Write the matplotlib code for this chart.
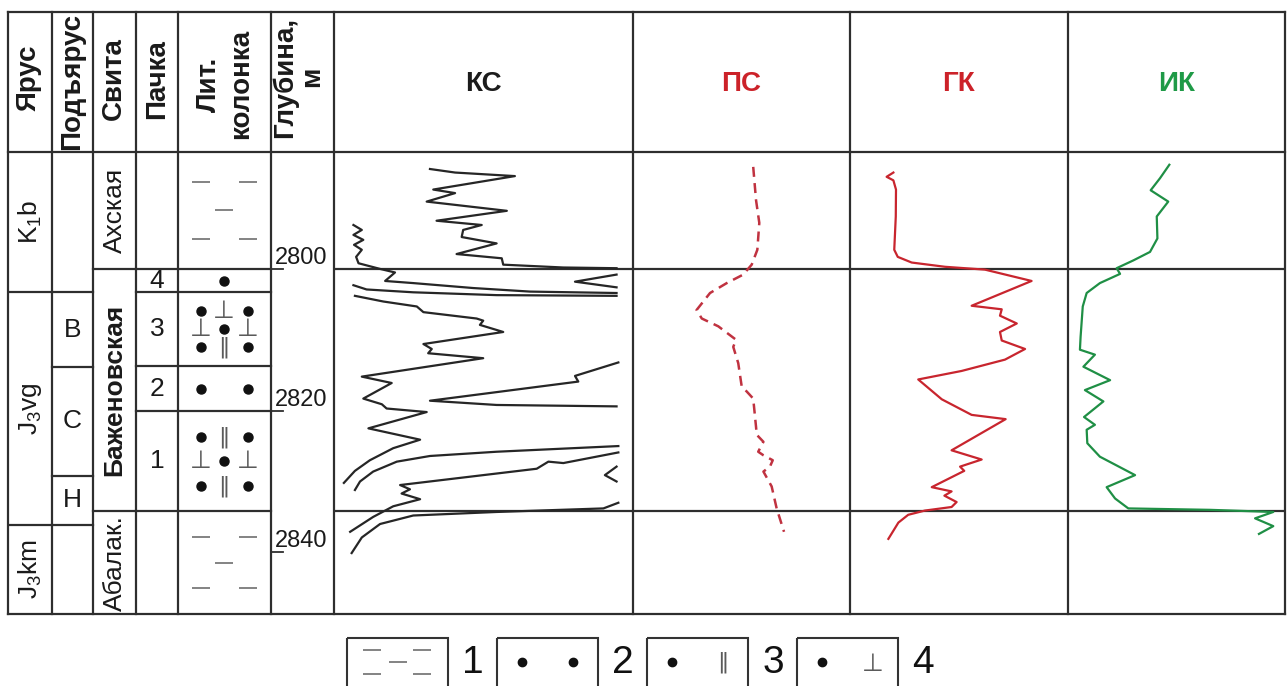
import matplotlib
matplotlib.use("Agg")
import matplotlib.pyplot as plt
from matplotlib.patches import Rectangle

plt.rcParams['font.family'] = ['Liberation Sans', 'DejaVu Sans']
plt.rcParams['mathtext.fontset'] = 'custom'
plt.rcParams['mathtext.rm'] = 'Liberation Sans'
plt.rcParams['mathtext.it'] = 'Liberation Sans:italic'
plt.rcParams['mathtext.bf'] = 'Liberation Sans:bold'

# ---------------- data ----------------
DEPTH_TOP, DEPTH_BOTTOM = 2783.5, 2848.7
depth_ticks = [2800, 2820, 2840]

stage_names = ["K$_1$b", "J$_3$vg", "J$_3$km"]
stage_bounds = [2783.5, 2803.3, 2836.1, 2848.7]

substage_names = ["", "В", "С", "Н", ""]
substage_bounds = [2783.5, 2803.3, 2813.8, 2829.2, 2836.1, 2848.7]

formation_names = ["Ахская", "Баженовская", "Абалак."]
formation_bounds = [2783.5, 2800.0, 2834.2, 2848.7]

member_names = ["", "4", "3", "2", "1", ""]
member_bounds = [2783.5, 2800.0, 2803.3, 2813.7, 2820.1, 2834.2, 2848.7]

# lithology symbols per member interval: 'd' dash, 'o' dot, 'T' perpendicular, '=' double bar
lith_rows = [
    [("d", "", "d"), ("", "d", ""), ("d", "", "d")],
    [("", "o", "")],
    [("o", "T", "o"), ("T", "o", "T"), ("o", "=", "o")],
    [("o", "", "o")],
    [("o", "=", "o"), ("T", "o", "T"), ("o", "=", "o")],
    [("d", "", "d"), ("", "d", ""), ("d", "", "d")],
]

legend_labels = ["1", "2", "3", "4"]
legend_symbols = [
    "shale",
    ("o", "o"),
    ("o", "="),
    ("o", "T"),
]

left_headers = ["Ярус", "Подъярус", "Свита", "Пачка", "Лит.\nколонка", "Глубина,\nм"]
track_names = ["КС", "ПС", "ГК", "ИК"]
track_colors = ["#1c1c1c", "#cc2229", "#cc2229", "#1f9a47"]

# КС (apparent resistivity, relative track units 0-100), several wrapped segments
ks_depth = [
    [2785.9, 2786.4, 2786.9, 2788.8, 2789.3, 2790.5, 2791.8, 2793.2, 2793.8, 2794.5,
     2795.5, 2796.4, 2797.9, 2798.5, 2799.4, 2799.8, 2799.9],
    [2793.8, 2794.5, 2795.2, 2795.9, 2796.6, 2797.3, 2798.3, 2799.2, 2800.0, 2800.5,
     2801.7, 2802.0, 2802.7, 2803.2, 2803.4],
    [2800.8, 2801.8, 2802.6],
    [2802.3, 2802.9, 2803.3, 2803.7, 2803.8],
    [2803.8, 2804.6, 2805.3, 2806.1, 2807.0, 2807.3, 2807.9, 2808.9, 2810.6, 2811.3,
     2811.9, 2812.6, 2815.2, 2816.1, 2818.3, 2819.1, 2819.7, 2820.2, 2822.5, 2824.1,
     2825.3, 2827.0, 2828.5, 2830.2],
    [2813.2, 2815.1, 2815.9, 2818.6, 2819.2, 2819.4],
    [2825.0, 2825.8, 2826.4, 2827.2, 2828.6, 2830.0, 2831.2],
    [2825.9, 2827.4, 2827.2, 2828.2, 2830.5, 2831.1, 2831.7, 2832.5, 2833.5, 2835.0, 2837.1],
    [2827.9, 2829.1, 2830.0],
    [2833.0, 2833.8, 2834.3, 2834.8, 2836.0, 2837.9, 2840.1],
]
ks_value = [
    [32.1, 40.5, 60.5, 33.2, 40.5, 31.0, 57.8, 34.3, 49.4, 43.2,
     42.7, 54.4, 41.0, 56.1, 56.6, 76.7, 94.5],
    [6.5, 9.3, 6.5, 9.8, 6.7, 9.3, 7.4, 8.2, 15.4, 20.4,
     17.1, 26.5, 46.6, 65.6, 94.5],
    [94.5, 80.6, 94.5],
    [6.5, 10.9, 26.5, 54.4, 94.5],
    [7.0, 16.5, 27.7, 29.9, 47.7, 49.9, 48.8, 56.6, 29.9, 32.7,
     31.5, 49.9, 9.3, 19.3, 9.8, 16.0, 17.6, 31.0, 11.5, 28.8,
     19.8, 12.0, 7.0, 3.3],
    [95.1, 80.6, 81.7, 32.1, 54.4, 94.5],
    [95.1, 54.4, 32.1, 21.0, 13.1, 8.7, 7.0],
    [95.1, 76.7, 71.7, 67.8, 22.1, 25.4, 22.6, 28.8, 19.8, 13.1, 5.4],
    [94.5, 90.6, 94.5],
    [95.1, 90.1, 54.4, 26.5, 15.4, 9.3, 5.9],
]

ps_depth = [2785.6, 2790.3, 2793.5, 2797.3, 2799.4, 2800.8, 2802.0, 2803.4, 2805.8, 2807.0,
            2808.1, 2810.0, 2811.0, 2813.3, 2816.6, 2817.3, 2818.3, 2822.3, 2823.4, 2824.4,
            2825.8, 2826.3, 2827.0, 2827.9, 2828.6, 2830.7, 2833.8, 2837.1]
ps_value = [55.4, 56.7, 58.2, 57.3, 54.7, 50.8, 43.2, 35.5, 29.3, 31.7,
            39.3, 47.5, 46.2, 48.5, 50.1, 52.4, 55.4, 56.7, 57.0, 60.1,
            57.7, 60.1, 64.4, 63.1, 60.1, 63.9, 66.2, 69.6]

gk_depth = [2786.4, 2787.0, 2787.5, 2788.8, 2792.6, 2797.3, 2798.3, 2799.1, 2799.7, 2800.1,
            2801.7, 2805.2, 2805.7, 2806.6, 2807.7, 2808.9, 2810.1, 2811.3, 2812.8, 2814.4,
            2815.6, 2818.4, 2820.6, 2821.2, 2825.6, 2826.9, 2827.9, 2828.5, 2830.8, 2831.4,
            2832.0, 2832.9, 2833.6, 2834.1, 2834.7, 2835.8, 2838.1]
gk_value = [19.9, 16.8, 19.9, 21.1, 21.0, 20.3, 21.9, 28.3, 43.6, 61.9,
            83.3, 55.8, 69.6, 68.8, 76.5, 68.8, 69.6, 80.3, 71.1, 51.2,
            31.3, 42.1, 55.8, 71.4, 46.6, 60.4, 50.5, 52.4, 37.5, 46.6,
            43.3, 48.9, 46.6, 34.4, 26.7, 22.2, 17.6]

ik_depth = [2785.3, 2787.2, 2788.9, 2790.5, 2792.6, 2795.7, 2797.6, 2798.8, 2799.9, 2800.7,
            2802.0, 2803.4, 2805.3, 2809.6, 2811.4, 2812.1, 2813.8, 2815.7, 2817.1, 2818.7,
            2820.9, 2822.0, 2822.7, 2824.6, 2826.5, 2829.1, 2830.8, 2832.4, 2833.8, 2834.0,
            2834.3, 2835.2, 2836.3, 2837.4]
ik_value = [46.7, 42.4, 38.1, 46.2, 40.9, 41.2, 37.8, 30.1, 22.4, 24.0,
            14.7, 8.6, 6.8, 5.8, 5.5, 12.4, 7.1, 19.4, 7.8, 16.3,
            7.4, 12.4, 8.6, 8.9, 14.7, 30.9, 17.8, 21.7, 27.8, 65.4,
            94.6, 86.2, 94.6, 88.0]

# ---------------- layout ----------------
W, H = 1288, 686
fig = plt.figure(figsize=(W / 100, H / 100), dpi=100)
bg = fig.add_axes([0, 0, 1, 1])
bg.set_xlim(0, W)
bg.set_ylim(H, 0)
bg.axis('off')

TABLE_TOP, HEAD_BOTTOM, TABLE_BOTTOM = 12, 152, 614
col_edges = [8, 52, 93, 136, 178, 271, 334, 633, 850, 1068, 1285]
LINE = '#2e2e2e'
LW = 1.6
FS = 19
HFS = 20


def px_rect(x0, y0, x1, y1):
    return [x0 / W, 1 - y1 / H, (x1 - x0) / W, (y1 - y0) / H]


for x in col_edges:
    bg.plot([x, x], [TABLE_TOP, TABLE_BOTTOM], color=LINE, lw=LW, solid_capstyle='projecting')
for y in [TABLE_TOP, HEAD_BOTTOM, TABLE_BOTTOM]:
    bg.plot([col_edges[0], col_edges[-1]], [y, y], color=LINE, lw=LW, solid_capstyle='projecting')

header_x = [29, 72, 114, 157, 225, 298]
header_y = [78, 81, 79, 79, 84, 77]
header_ls = [1.2, 1.2, 1.2, 1.2, 1.35, 1.05]
for x, y, ls, txt in zip(header_x, header_y, header_ls, left_headers):
    bg.text(x, y, txt, rotation=90, ha='center', va='center', fontsize=HFS,
            fontweight='bold', color='#1a1a1a', multialignment='center', linespacing=ls)

# ---- log tracks ----
tracks = []
for i, (name, color) in enumerate(zip(track_names, track_colors)):
    x0, x1 = col_edges[6 + i], col_edges[7 + i]
    ax = fig.add_axes(px_rect(x0, HEAD_BOTTOM, x1, TABLE_BOTTOM))
    ax.set_xlim(0, 100)
    ax.set_ylim(DEPTH_BOTTOM, DEPTH_TOP)
    ax.axis('off')
    for d in formation_bounds[1:-1]:
        ax.axhline(d, color=LINE, lw=LW)
    bg.text((x0 + x1) / 2, 84, name, ha='center', va='center', fontsize=HFS,
            fontweight='bold', color=color)
    tracks.append(ax)

for d, v in zip(ks_depth, ks_value):
    tracks[0].plot(v, d, color='#262626', lw=1.6, solid_joinstyle='round')
tracks[1].plot(ps_value, ps_depth, color='#c03240', lw=1.8, dashes=(4, 2.5))
tracks[2].plot(gk_value, gk_depth, color='#c8252e', lw=1.6)
tracks[3].plot(ik_value, ik_depth, color='#1f8f45', lw=1.6)

# ---- stratigraphic columns (x in pixels, y in depth) ----
st = fig.add_axes(px_rect(col_edges[0], HEAD_BOTTOM, col_edges[6], TABLE_BOTTOM))
st.set_xlim(col_edges[0], col_edges[6])
st.set_ylim(DEPTH_BOTTOM, DEPTH_TOP)
st.axis('off')


def col_lines(bounds, x0, x1):
    for d in bounds[1:-1]:
        st.plot([x0, x1], [d, d], color=LINE, lw=LW, solid_capstyle='projecting')


col_lines(stage_bounds, col_edges[0], col_edges[1])
col_lines(substage_bounds, col_edges[1], col_edges[2])
col_lines(formation_bounds, col_edges[2], col_edges[3])
col_lines(member_bounds, col_edges[3], col_edges[5])

for name, a, b in zip(stage_names, stage_bounds[:-1], stage_bounds[1:]):
    st.text(30, (a + b) / 2, name, rotation=90, ha='center', va='center', fontsize=FS, color='#1a1a1a')
for name, a, b in zip(substage_names, substage_bounds[:-1], substage_bounds[1:]):
    st.text(72.5, (a + b) / 2, name, ha='center', va='center', fontsize=FS, color='#1a1a1a')
for name, a, b in zip(formation_names, formation_bounds[:-1], formation_bounds[1:]):
    st.text(114.5, (a + b) / 2, name, rotation=90, ha='center', va='center', fontsize=FS,
            color='#1a1a1a', fontweight='bold' if name == "Баженовская" else 'normal')
for name, a, b in zip(member_names, member_bounds[:-1], member_bounds[1:]):
    st.text(157, (a + b) / 2, name, ha='center', va='center', fontsize=FS, color='#1a1a1a')


def symbol(ax, kind, x, y, dot_ms=6.5, dash_ms=13.5, glyph_fs=18):
    if kind == 'o':
        ax.plot([x], [y], marker='o', ms=dot_ms, color='#111111', mec='#111111')
    elif kind == 'd':
        ax.plot([x], [y], marker='_', ms=dash_ms, mew=1.3, color='#7a7a7a')
    elif kind == 'T':
        ax.text(x, y, "⊥", ha='center', va='center', fontsize=glyph_fs,
                family='DejaVu Sans', color='#5a5a5a')
    elif kind == '=':
        ax.text(x, y, "‖", ha='center', va='center', fontsize=glyph_fs - 2,
                family='DejaVu Sans', color='#5a5a5a')


lith_x = [200.5, 224, 247.5]
for rows, a, b in zip(lith_rows, member_bounds[:-1], member_bounds[1:]):
    mid = (a + b) / 2
    step = 0.245 * (b - a)
    n = len(rows)
    for r, row in enumerate(rows):
        y = mid + (r - (n - 1) / 2) * step
        for kind, x in zip(row, lith_x):
            if kind:
                symbol(st, kind, x, y)

# depth scale
for d in depth_ticks:
    st.plot([col_edges[5] + 1, 283], [d, d], color=LINE, lw=1.3)
    st.text(275, d, str(d), ha='left', va='bottom', fontsize=17, color='#1a1a1a')

# ---- legend (bottom) ----
box_left = [347, 497, 647, 797]
BOX_W, BOX_TOP = 101, 638
for bx, lab, sym in zip(box_left, legend_labels, legend_symbols):
    bg.add_patch(Rectangle((bx, BOX_TOP), BOX_W, 70, fill=False, ec='#333333', lw=1.5))
    cy = 662
    if sym == "shale":
        for dx, dy in [(25.5, -12), (75.5, -12), (51, 0), (25.5, 12), (75.5, 12)]:
            symbol(bg, 'd', bx + dx, cy + dy, dash_ms=13.5)
    else:
        symbol(bg, sym[0], bx + 25, cy, dot_ms=6)
        symbol(bg, sym[1], bx + 76, cy + (2 if sym[1] == 'T' else 0), dot_ms=6)
    bg.text(bx + BOX_W + 25, cy + 1, lab, ha='center', va='center', fontsize=28, color='#111111')

fig.savefig("out.png", dpi=100)
